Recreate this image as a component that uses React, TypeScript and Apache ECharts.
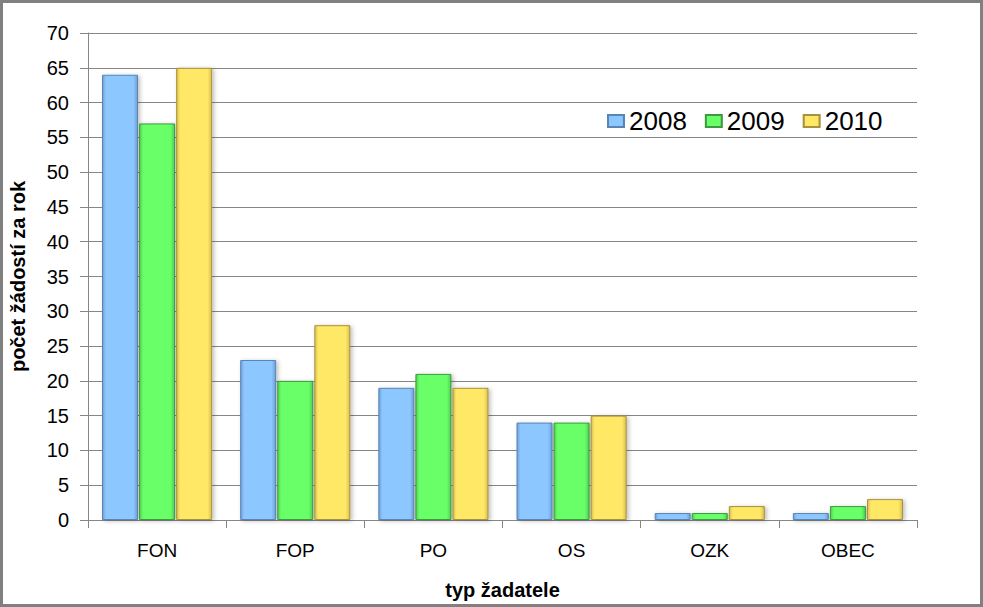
import React, { useEffect, useRef } from "react";
import * as echarts from "echarts";

const categories = ["FON", "FOP", "PO", "OS", "OZK", "OBEC"];
const years = ["2008", "2009", "2010"];
const values2008 = [64, 23, 19, 14, 1, 1];
const values2009 = [57, 20, 21, 14, 1, 2];
const values2010 = [65, 28, 19, 15, 2, 3];

const FONT = "Arial, 'Liberation Sans', sans-serif";

function grad(edge: string, mid: string) {
  return new echarts.graphic.LinearGradient(0, 0, 1, 0, [
    { offset: 0, color: edge },
    { offset: 0.1, color: mid },
    { offset: 0.88, color: mid },
    { offset: 1, color: edge },
  ]);
}

export default function App() {
  const ref = useRef<HTMLDivElement>(null);
  useEffect(() => {
    document.body.style.margin = "0";
    const chart = echarts.init(ref.current!, null, { renderer: "svg" });
    const styles = [
      { fill: grad("#6E9FD6", "#8CC8FF"), border: "#5A84B4" },
      { fill: grad("#4FCF4F", "#69FF69"), border: "#3E9A3E" },
      { fill: grad("#D8C050", "#FFE866"), border: "#A8923C" },
    ];
    const data = [values2008, values2009, values2010];
    chart.setOption({
      animation: false,
      backgroundColor: "#ffffff",
      graphic: [
        {
          type: "rect",
          shape: { x: 1.5, y: 1.5, width: 980, height: 604 },
          style: { fill: "none", stroke: "#808080", lineWidth: 3 },
          silent: true,
        },
      ],
      legend: {
        left: 602,
        top: 103,
        itemWidth: 16,
        itemHeight: 12,
        itemGap: 18,
        icon: "rect",
        textStyle: { fontFamily: FONT, fontSize: 26, color: "#000" },
        data: years,
      },
      grid: { left: 88, right: 66, top: 33, bottom: 87, outerBoundsMode: "none", containLabel: false },
      xAxis: {
        type: "category",
        data: categories,
        name: "typ žadatele",
        nameLocation: "middle",
        nameGap: 60,
        nameTextStyle: { fontFamily: FONT, fontSize: 20, fontWeight: "bold", color: "#000" },
        axisLine: { lineStyle: { color: "#868686", width: 1 } },
        axisTick: { show: true, length: 8, lineStyle: { color: "#868686" } },
        axisLabel: { fontFamily: FONT, fontSize: 19, color: "#000", margin: 21 },
      },
      yAxis: {
        type: "value",
        min: 0,
        max: 70,
        interval: 5,
        name: "počet žádostí za rok",
        nameLocation: "middle",
        nameGap: 60,
        nameTextStyle: { fontFamily: FONT, fontSize: 20, fontWeight: "bold", color: "#000" },
        axisLine: { show: true, lineStyle: { color: "#868686", width: 1 } },
        axisTick: { show: true, length: 8, lineStyle: { color: "#868686" } },
        axisLabel: { fontFamily: FONT, fontSize: 20, color: "#000", margin: 19 },
        splitLine: { lineStyle: { color: "#868686", width: 1 } },
      },
      series: years.map((y, i) => ({
        name: y,
        type: "bar",
        data: data[i],
        barWidth: 36,
        barGap: "3%",
        itemStyle: {
          color: styles[i].fill,
          borderColor: styles[i].border,
          borderWidth: 1,
          shadowColor: "rgba(0,0,0,0.25)",
          shadowBlur: 4,
          shadowOffsetX: 2,
          shadowOffsetY: 1,
        },
      })),
    });
    return () => chart.dispose();
  }, []);
  return <div ref={ref} style={{ width: 983, height: 607 }} />;
}
